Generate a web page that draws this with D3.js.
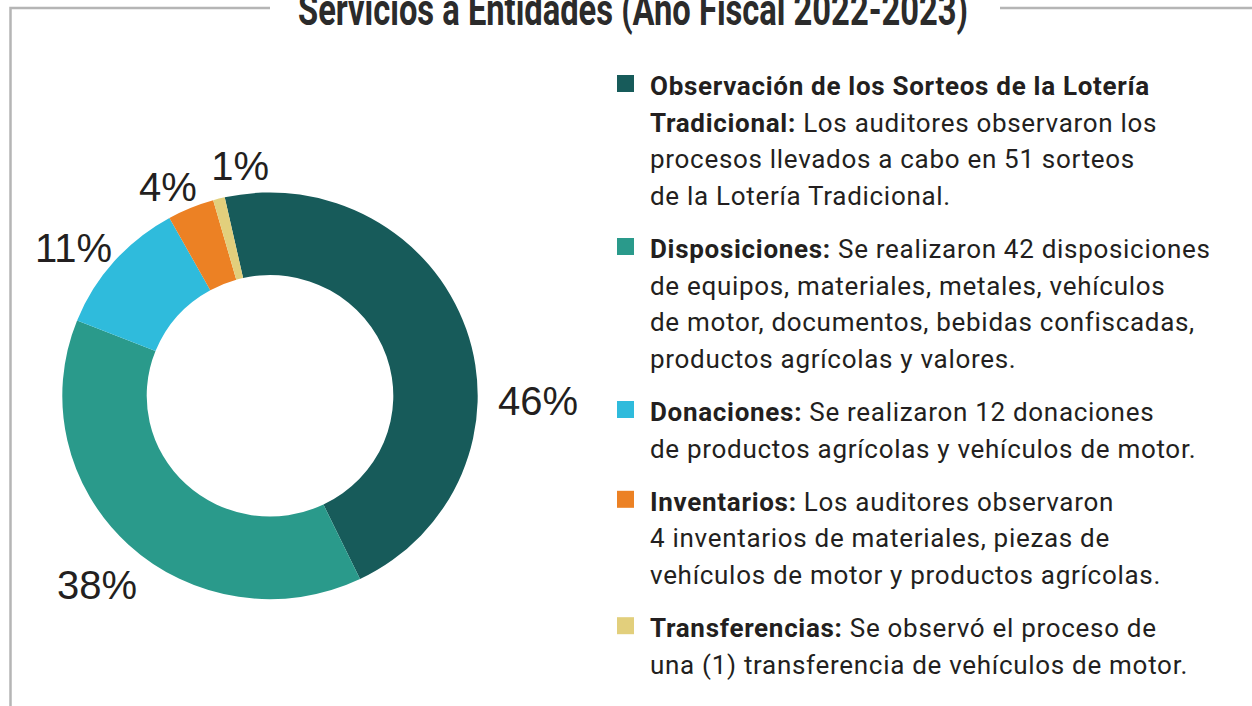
<!DOCTYPE html>
<html><head><meta charset="utf-8">
<script src="https://cdn.jsdelivr.net/npm/d3@7"></script>
<style>
html,body{margin:0;padding:0;background:#fff;}
svg{display:block;}
</style></head>
<body>
<svg id="chart" width="1252" height="706"></svg>
<script>
// ---- data ----
const categories = ["Observación de los Sorteos de la Lotería Tradicional", "Disposiciones", "Donaciones", "Inventarios", "Transferencias"];
const counts = [51, 42, 12, 4, 1];
const percentLabels = ["46%", "38%", "11%", "4%", "1%"];
const colors = ["#175b5a", "#2a9a8b", "#2fbbdc", "#ec8124", "#e2cf7c"];
const titleText = "Servicios a Entidades (Año Fiscal 2022-2023)";
const legendBold = [
  ["Observación de los Sorteos de la Lotería", "Tradicional:"],
  ["Disposiciones:"],
  ["Donaciones:"],
  ["Inventarios:"],
  ["Transferencias:"]
];
const legendRest = [
  ["", " Los auditores observaron los", "procesos llevados a cabo en 51 sorteos", "de la Lotería Tradicional."],
  [" Se realizaron 42 disposiciones", "de equipos, materiales, metales, vehículos", "de motor, documentos, bebidas confiscadas,", "productos agrícolas y valores."],
  [" Se realizaron 12 donaciones", "de productos agrícolas y vehículos de motor."],
  [" Los auditores observaron", "4 inventarios de materiales, piezas de", "vehículos de motor y productos agrícolas."],
  [" Se observó el proceso de", "una (1) transferencia de vehículos de motor."]
];

// ---- layout ----
const svg = d3.select("#chart");
const cx = 270, cy = 395.8, rOuter = 207.7, rInner = 123.3, squash = 0.979;
const startDeg = -12.6;
// label placement: polar (deg from top, radius) in layout, not data
const labelPolar = [[91, 268], [222.5, 256], [307, 246], [334, 233], [352.6, 232]];

// frame
const frame = svg.append("g").attr("stroke", "#b5b5b5").attr("stroke-width", 2.5).attr("fill", "none");
frame.append("path").attr("d", "M10.5,706 V8 H270");
frame.append("path").attr("d", "M1000,8 H1252");

svg.append("text")
  .attr("x", 633).attr("y", 25)
  .attr("text-anchor", "middle")
  .attr("font-family", "Roboto, 'Liberation Sans', sans-serif")
  .attr("font-weight", 700)
  .attr("font-size", 45)
  .attr("fill", "#2b2b2b")
  .attr("textLength", 670)
  .attr("lengthAdjust", "spacingAndGlyphs")
  .text(titleText);

// donut
const pie = d3.pie().sort(null)
  .startAngle(startDeg * Math.PI / 180)
  .endAngle((startDeg + 360) * Math.PI / 180);
const arc = d3.arc().innerRadius(rInner).outerRadius(rOuter);
const arcs = pie(counts);
const g = svg.append("g").attr("transform", `translate(${cx},${cy})`);
g.append("g").attr("transform", `scale(1,${squash})`)
  .selectAll("path").data(arcs).join("path")
  .attr("d", arc)
  .attr("fill", (d, i) => colors[i]);

g.selectAll("text.pct").data(arcs).join("text")
  .attr("class", "pct")
  .attr("x", (d, i) => labelPolar[i][1] * Math.sin(labelPolar[i][0] * Math.PI / 180))
  .attr("y", (d, i) => -labelPolar[i][1] * Math.cos(labelPolar[i][0] * Math.PI / 180))
  .attr("dy", "0.36em")
  .attr("text-anchor", "middle")
  .attr("font-family", "'Liberation Sans', Arial, sans-serif")
  .attr("font-size", 40)
  .attr("fill", "#231f20")
  .text((d, i) => percentLabels[i]);

// legend
const lx = 650, markerX = 617, lineH = 36.6, itemGap = 16.6;
let y = 95;
const leg = svg.append("g")
  .attr("font-family", "Roboto, 'Liberation Sans', sans-serif")
  .attr("font-size", 26)
  .attr("letter-spacing", "0.7px")
  .attr("fill", "#231f20");
categories.forEach((c, i) => {
  leg.append("rect").attr("x", markerX).attr("y", y - 20).attr("width", 17).attr("height", 17).attr("fill", colors[i]);
  const nLines = legendRest[i].length;
  for (let k = 0; k < nLines; k++) {
    const t = leg.append("text").attr("x", lx).attr("y", y + k * lineH);
    if (k < legendBold[i].length) {
      t.append("tspan").attr("font-weight", 700).text(legendBold[i][k]);
    }
    if (legendRest[i][k]) t.append("tspan").attr("xml:space", "preserve").text(legendRest[i][k]);
  }
  y += nLines * lineH + itemGap;
});
</script>
</body></html>
